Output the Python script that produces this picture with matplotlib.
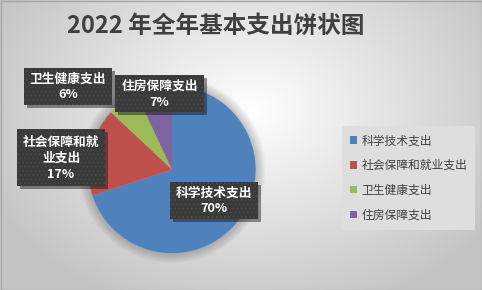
import numpy as np
import matplotlib
matplotlib.use("Agg")
import matplotlib.pyplot as plt
from matplotlib import patheffects
from matplotlib.patches import Circle, Rectangle

plt.rcParams['font.family'] = ['Noto Sans CJK SC', 'DejaVu Sans']
plt.rcParams['hatch.linewidth'] = 0.6

title = "2022 年全年基本支出饼状图"
categories = ["科学技术支出", "社会保障和就业支出", "卫生健康支出", "住房保障支出"]
label_text = ["科学技术支出", "社会保障和就\n业支出", "卫生健康支出", "住房保障支出"]
values = [70, 17, 6, 7]
colors = ["#4f81bd", "#c0504d", "#9bbb59", "#8064a2"]

W, H = 482, 290
fig = plt.figure(figsize=(W / 100, H / 100), dpi=100)

# soft radial gradient background
bg = fig.add_axes([0, 0, 1, 1])
yy, xx = np.mgrid[0:H, 0:W]
d = np.sqrt(((xx - 250) / 300.0) ** 2 + ((yy - 110) / 220.0) ** 2)
shade = np.clip(1.0 - 0.24 * d, 0.77, 1.0)
bg.imshow(np.dstack([shade] * 3), extent=[0, W, H, 0], aspect='auto')
bg.add_patch(Rectangle((0.5, 0.5), W - 1, H - 1, fill=False, edgecolor="#a6a6a6", lw=1))
bg.set_xlim(0, W)
bg.set_ylim(H, 0)
bg.axis('off')

bg.text(216, 26, title, fontsize=17, fontweight='bold', color="#404040",
        ha='center', va='center')

# pie
cx, cy, r = 172, 169.5, 104.5
ax = fig.add_axes([(cx - r) / W, (H - cy - r) / H, 2 * r / W, 2 * r / H])
ax.set_xlim(-1, 1)
ax.set_ylim(-1, 1)
ax.axis('off')

for rr in np.linspace(1.0, 1.12, 12):
    ax.add_patch(Circle((0, 0), rr, color='black', alpha=0.018, lw=0, zorder=0,
                        clip_on=False))

wedges, _ = ax.pie(values, colors=colors, startangle=90, counterclock=False,
                   radius=1.0, wedgeprops=dict(linewidth=0))
for w in wedges:
    w.set_zorder(2)

# data label callouts, drawn in pixel space on top of the pie
ov = fig.add_axes([0, 0, 1, 1])
ov.set_xlim(0, W)
ov.set_ylim(H, 0)
ov.axis('off')
ov.patch.set_alpha(0)

total = sum(values)
boxes = [(170, 182, 88, 37), (17, 129, 88, 57), (24, 68, 88, 37), (115, 75, 89, 37)]
for txt, v, (bx, by, bw, bh) in zip(label_text, values, boxes):
    base = Rectangle((bx, by), bw, bh, facecolor='#3a3a3a', edgecolor='none', zorder=3)
    base.set_path_effects([patheffects.withSimplePatchShadow(offset=(2.5, -2.5),
                                                             alpha=0.45),
                           patheffects.Normal()])
    ov.add_patch(base)
    ov.add_patch(Rectangle((bx, by), bw, bh, facecolor='none', edgecolor='#4a4a4a',
                           lw=0, hatch='....', zorder=4))
    ov.text(bx + bw / 2, by + bh / 2 + 0.5, f"{txt}\n{v / total:.0%}", fontsize=9.2,
            fontweight='bold', color='white', ha='center', va='center',
            linespacing=1.3, zorder=5)

leg = fig.legend(wedges, categories, loc='upper left',
                 bbox_to_anchor=(342 / W, 1 - 126 / H),
                 fontsize=8.5, frameon=True, facecolor='#dedede', edgecolor='none',
                 fancybox=False, framealpha=1, handlelength=0.6, handleheight=0.6,
                 handletextpad=0.35, labelspacing=1.0, borderpad=0.7,
                 borderaxespad=0)
for t in leg.get_texts():
    t.set_color('#404040')

fig.savefig("out.png", dpi=100)
